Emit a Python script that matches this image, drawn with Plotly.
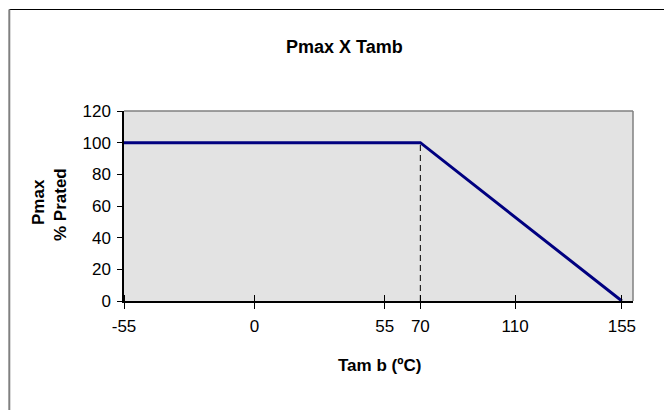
import plotly.graph_objects as go

# Data
temp_curve = [-55, 70, 155]
pmax_curve = [100, 100, 0]
dash_x = [70, 70]
dash_y = [0, 100]
x_ticks = [-55, 0, 55, 70, 110, 155]
y_ticks = [0, 20, 40, 60, 80, 100, 120]

FONT = "Arial, Liberation Sans, sans-serif"

fig = go.Figure()
fig.add_trace(go.Scatter(x=dash_x, y=dash_y, mode="lines",
                         line=dict(color="black", width=1, dash="6px,4px"),
                         hoverinfo="skip", showlegend=False))
fig.add_trace(go.Scatter(x=temp_curve, y=pmax_curve, mode="lines",
                         line=dict(color="#000080", width=3),
                         showlegend=False))

fig.update_layout(
    width=664, height=410,
    margin=dict(l=124, r=31, t=111, b=109),
    paper_bgcolor="white",
    plot_bgcolor="#E3E3E3",
    font=dict(family=FONT, size=17, color="black"),
    showlegend=False,
)

fig.update_xaxes(
    range=[-55, 159.7], tickmode="array", tickvals=x_ticks,
    ticktext=[str(v) for v in x_ticks],
    showgrid=False, zeroline=False,
    showline=True, linecolor="black", linewidth=1.5,
    ticks="outside", ticklen=6, tickcolor="black", tickwidth=1,
    minor=dict(tickvals=x_ticks, ticks="inside", ticklen=6, tickcolor="black", tickwidth=1),
    tickfont=dict(size=17),
    ticklabelstandoff=3,
    fixedrange=True,
)
fig.update_yaxes(
    range=[0, 120], tickmode="array", tickvals=y_ticks,
    showgrid=False, zeroline=False,
    showline=True, linecolor="black", linewidth=1.5,
    ticks="outside", ticklen=5, tickcolor="black", tickwidth=1,
    tickfont=dict(size=17),
    ticklabelstandoff=3,
    fixedrange=True,
)

# top and right gray border of the plot area
fig.add_shape(type="line", xref="x domain", yref="y domain", x0=0, x1=1, y0=1, y1=1,
              line=dict(color="#808080", width=1.5))
fig.add_shape(type="line", xref="x domain", yref="y domain", x0=1, x1=1, y0=0, y1=1,
              line=dict(color="#808080", width=1.5))

# outer chart border (paper coordinates computed from pixel positions)
W, H = 664, 410
ml, mb = 124, 109
pw, ph = W - 124 - 31, H - 111 - 109
def px_x(p):
    return (p - ml) / pw
def px_y(p):
    return (H - mb - p) / ph
fig.add_shape(type="line", xref="paper", yref="paper",
              x0=px_x(9.3), x1=px_x(700), y0=px_y(9.5), y1=px_y(9.5),
              line=dict(color="black", width=1))
fig.add_shape(type="line", xref="paper", yref="paper",
              x0=px_x(9.3), x1=px_x(9.3), y0=px_y(9.5), y1=px_y(420),
              line=dict(color="#808080", width=2))

# Titles
fig.add_annotation(text="<b>Pmax X Tamb</b>", xref="paper", yref="paper",
                   x=px_x(344), y=px_y(47), showarrow=False,
                   font=dict(size=18, family=FONT), xanchor="center", yanchor="middle")
fig.add_annotation(text="<b>Tam b (ºC)</b>", xref="paper", yref="paper",
                   x=px_x(379), y=px_y(365), showarrow=False,
                   font=dict(size=17, family=FONT), xanchor="center", yanchor="middle")
fig.add_annotation(text="<b>Pmax</b>", xref="paper", yref="paper",
                   x=px_x(38), y=px_y(202), showarrow=False, textangle=-90,
                   font=dict(size=17, family=FONT), xanchor="center", yanchor="middle")
fig.add_annotation(text="<b>% Prated</b>", xref="paper", yref="paper",
                   x=px_x(60), y=px_y(205), showarrow=False, textangle=-90,
                   font=dict(size=17, family=FONT), xanchor="center", yanchor="middle")

fig.write_html("out.html", config=dict(displayModeBar=False))
